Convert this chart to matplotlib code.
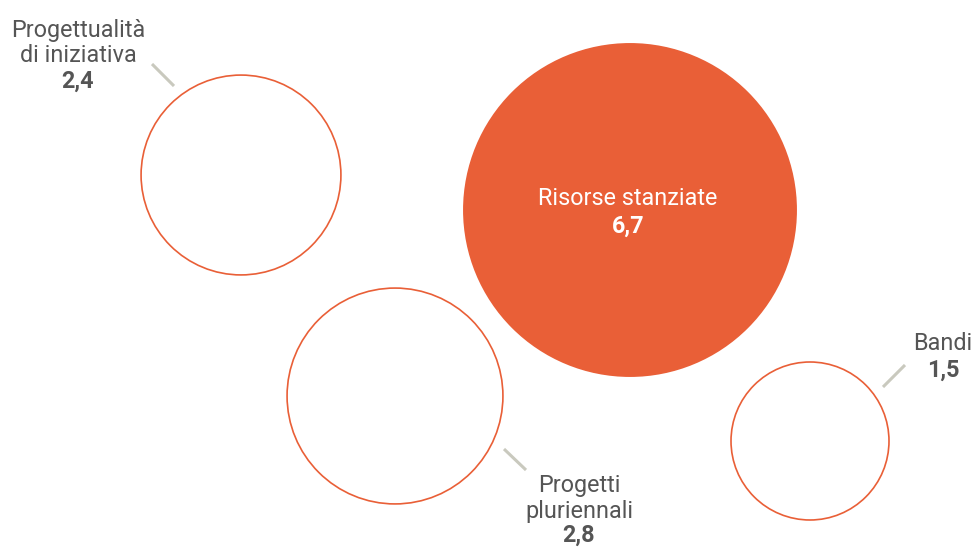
import matplotlib.pyplot as plt
from matplotlib.patches import Circle

plt.rcParams['font.family'] = ['Roboto', 'DejaVu Sans']

labels = ['Risorse stanziate', 'Progettualità\ndi iniziativa', 'Progetti\npluriennali', 'Bandi']
values = [6.7, 2.4, 2.8, 1.5]
value_text = ['6,7', '2,4', '2,8', '1,5']

orange = '#E95F37'
grey = '#555555'
line_col = '#C9C9BE'

# layout (pixel coords, y down)
centers = [(630, 210), (241, 175), (395, 396), (810, 441)]
filled = [True, False, False, False]
scale = 64.5  # px per sqrt(value)

fig = plt.figure(figsize=(9.75, 5.48), dpi=100)
ax = fig.add_axes([0, 0, 1, 1])
ax.set_xlim(0, 975)
ax.set_ylim(548, 0)
ax.set_aspect('equal')
ax.axis('off')

for (cx, cy), v, f in zip(centers, values, filled):
    r = scale * v ** 0.5
    if f:
        ax.add_patch(Circle((cx, cy), r, facecolor=orange, edgecolor='none'))
    else:
        ax.add_patch(Circle((cx, cy), r, facecolor='white', edgecolor=orange, lw=1.2))

# leader lines
for (x0, y0), (x1, y1) in [((152, 64), (174, 86)), ((504, 449), (526, 470)), ((905, 365), (883, 387))]:
    ax.plot([x0, x1], [y0, y1], color=line_col, lw=2.2, solid_capstyle='butt')

fs = 16.8

def label(x, baselines, text, val, col):
    # baselines: one per text line, then the value line
    lines = text.split('\n')
    for b, t in zip(baselines, lines):
        ax.text(x, b, t, ha='center', va='baseline', color=col, fontsize=fs)
    ax.text(x, baselines[-1], val, ha='center', va='baseline', color=col,
            fontsize=fs, fontweight='bold')

label(628, [205, 233], labels[0], value_text[0], 'white')
label(78, [37, 62, 88], labels[1], value_text[1], grey)
label(579, [492, 518, 542], labels[2], value_text[2], grey)
label(943, [350, 377], labels[3], value_text[3], grey)

fig.savefig('out.png', dpi=100, facecolor='white')
